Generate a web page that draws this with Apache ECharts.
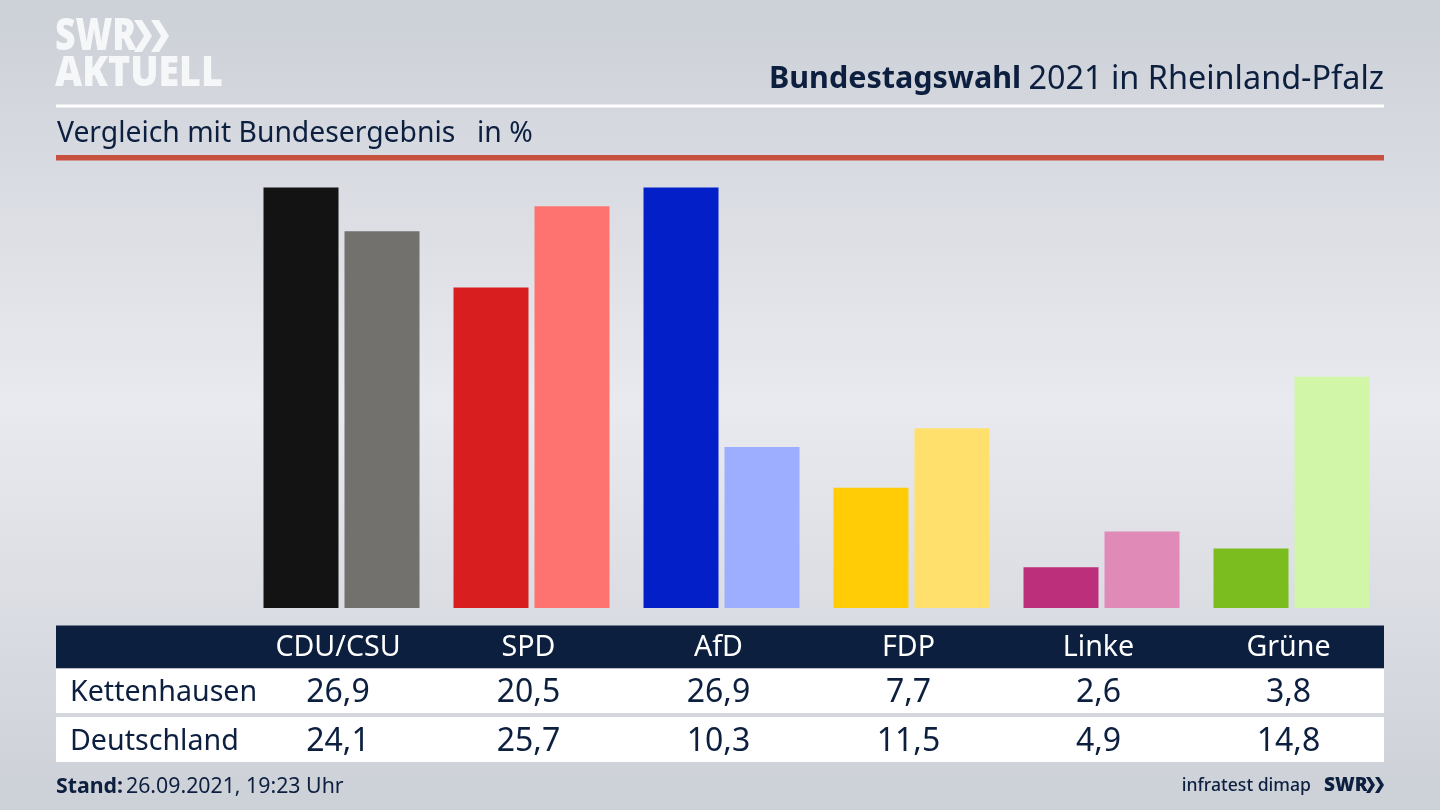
<!DOCTYPE html>
<html><head><meta charset="utf-8">
<style>html,body{margin:0;padding:0;width:1440px;height:810px;overflow:hidden}#c{width:1440px;height:810px}</style>
<script src="https://cdn.jsdelivr.net/npm/echarts@6/dist/echarts.min.js"></script>
</head><body><div id="c"></div>
<script>
const categories = ['CDU/CSU','SPD','AfD','FDP','Linke','Grüne'];
const kettenhausen = [26.9,20.5,26.9,7.7,2.6,3.8];
const deutschland = [24.1,25.7,10.3,11.5,4.9,14.8];
const darkColors = ['#131313','#d81e1f','#0320c8','#ffcc06','#bc2f7a','#7bbd1e'];
const lightColors = ['#72716e','#fe7370','#9dadff','#ffe06d','#e08ab8','#d2f6a8'];
const rowNames = ['Kettenhausen','Deutschland'];
const FONT = '"Noto Sans"';
const NAVY = '#0c1f3f';
const fmt = v => v.toFixed(1).replace('.',',');
const colCenters = [338,528.5,718.5,908.5,1098.5,1288.5];

function txt(x,y,text,size,fill,align,weight){
  return {type:'text',x,y,silent:true,style:{text,fontFamily:FONT,fontSize:size,fill,align:align||'left',verticalAlign:'middle',fontWeight:weight||'normal'}};
}
function rect(x,y,w,h,fill){return {type:'rect',silent:true,shape:{x,y,width:w,height:h},style:{fill}};}
function chevrons(x,y,w,h,gap,fill,lw){
  const out=[];
  for(let i=0;i<2;i++){const ox=x+i*gap;
    out.push({type:'polygon',silent:true,shape:{points:[[ox,y],[ox+lw,y],[ox+lw+w,y+h/2],[ox+lw,y+h],[ox,y+h],[ox+w,y+h/2]]},style:{fill}});}
  return out;
}
const g=[];
// header
g.push(Object.assign(txt(55,37,'SWR',35.5,'#f6f7f8','left',900),{scaleY:1.25}));
g.push(...chevrons(134,20,10,32,17,'#f6f7f8',8));
g.push(Object.assign(txt(55,73.5,'AKTUELL',37.5,'#f6f7f8','left',900),{scaleY:1.14}));
g.push(rect(56,104.5,1328,3,'#ffffff'));
g.push(txt(769,79.5,'Bundestagswahl',30.5,NAVY,'left','bold'));
g.push(txt(1384,79.5,'2021 in Rheinland-Pfalz',32.4,NAVY,'right'));
g.push(txt(57,134,'Vergleich mit Bundesergebnis',28.3,NAVY));
g.push(txt(477,134,'in %',28.3,NAVY));
g.push(rect(56,155,1328,5.5,'#c8503f'));
// table
g.push(rect(56,625.5,1328,43,NAVY));
g.push(rect(56,668.5,1328,44.5,'#ffffff'));
g.push(rect(56,717,1328,45,'#ffffff'));
categories.forEach((c,i)=>{
  g.push(txt(colCenters[i],648,c,28.6,'#ffffff','center'));
  g.push(txt(colCenters[i],693,fmt(kettenhausen[i]),32,NAVY,'center'));
  g.push(txt(colCenters[i],742,fmt(deutschland[i]),32,NAVY,'center'));
});
g.push(txt(70,692.5,rowNames[0],28.6,NAVY));
g.push(txt(70,741.5,rowNames[1],28.6,NAVY));
// footer
g.push(txt(56,787,'Stand:',21.3,NAVY,'left','bold'));
g.push(txt(126,787,'26.09.2021, 19:23 Uhr',21.3,NAVY));
g.push(txt(1311,786,'infratest dimap',17.6,NAVY,'right',500));
g.push(txt(1324,785.5,'SWR',19,NAVY,'left',900));
g.push(...chevrons(1366,777,5,16,9,NAVY,4));

const chart=echarts.init(document.getElementById('c'),null,{renderer:'canvas'});
chart.setOption({
  animation:false,
  backgroundColor:{type:'linear',x:0,y:0,x2:0,y2:1,colorStops:[
    {offset:0,color:'#ccd0d7'},{offset:0.5,color:'#e9eaef'},{offset:1,color:'#ccd0d7'}]},
  grid:{left:246.5,right:53.5,top:187.5,bottom:202,containLabel:false},
  xAxis:{type:'category',data:categories,axisLine:{show:false},axisTick:{show:false},axisLabel:{show:false}},
  yAxis:{type:'value',min:0,max:26.9,show:false,splitLine:{show:false}},
  series:[
    {name:rowNames[0],type:'bar',barWidth:75,barGap:'8%',data:kettenhausen.map((v,i)=>({value:v,itemStyle:{color:darkColors[i]}}))},
    {name:rowNames[1],type:'bar',barWidth:75,barGap:'8%',data:deutschland.map((v,i)=>({value:v,itemStyle:{color:lightColors[i]}}))}
  ],
  graphic:{elements:g}
});
</script></body></html>
